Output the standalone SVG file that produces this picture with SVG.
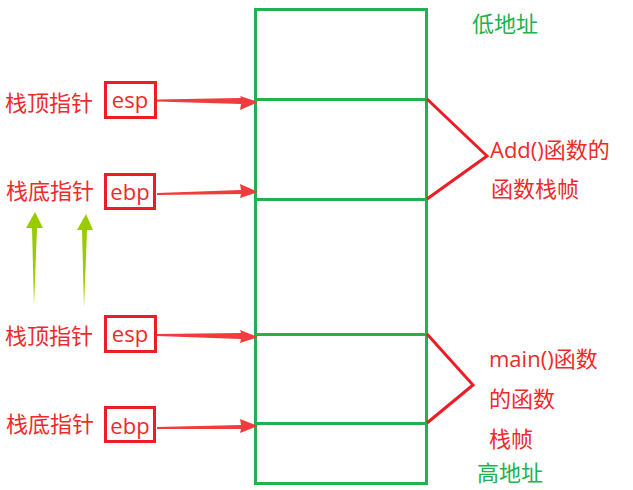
<svg xmlns="http://www.w3.org/2000/svg" width="633" height="490" viewBox="0 0 633 490">
<style>
.t{font-family:"Noto Sans CJK SC","Noto Sans",sans-serif;font-size:22px;fill:#ee2a2a}
.e{font-family:"Open Sans","Noto Sans",sans-serif;font-size:22px;fill:#ee2a2a}
.g{font-family:"Noto Sans CJK SC","Noto Sans",sans-serif;font-size:22px;fill:#22b14c}
.box{fill:none;stroke:#ee1c24;stroke-width:3}
.fr{fill:none;stroke:#22b14c;stroke-width:3}
.arr{fill:#f03c3c}
.up{fill:#99cc00}
.br{fill:none;stroke:#ee1c24;stroke-width:3;stroke-linejoin:miter}
</style>
<rect width="633" height="490" fill="#fff"/>
<g id="stack">
<rect class="fr" x="255.5" y="9.5" width="171" height="474"/>
<line class="fr" x1="255" y1="99.5" x2="427" y2="99.5"/>
<line class="fr" x1="255" y1="199.5" x2="427" y2="199.5"/>
<line class="fr" x1="255" y1="334.5" x2="427" y2="334.5"/>
<line class="fr" x1="255" y1="423.5" x2="427" y2="423.5"/>
</g>
<g id="low"><text class="g" x="472" y="32">低地址</text></g>
<g id="high"><text class="g" x="477" y="481">高地址</text></g>
<g id="esp1">
<text class="t" x="5" y="111">栈顶指针</text>
<rect class="box" x="105.5" y="82.5" width="50" height="35"/>
<text class="e" x="130" y="108" text-anchor="middle">esp</text>
</g>
<g id="ebp1">
<text class="t" x="6" y="199">栈底指针</text>
<rect class="box" x="105.5" y="174.5" width="49" height="34"/>
<text class="e" x="130" y="200" text-anchor="middle">ebp</text>
</g>
<g id="esp2">
<text class="t" x="5" y="344">栈顶指针</text>
<rect class="box" x="105.5" y="316.5" width="50" height="35"/>
<text class="e" x="130" y="342" text-anchor="middle">esp</text>
</g>
<g id="ebp2">
<text class="t" x="6" y="432">栈底指针</text>
<rect class="box" x="105.5" y="407.5" width="49" height="34"/>
<text class="e" x="130" y="434" text-anchor="middle">ebp</text>
</g>
<g id="addlabel">
<text class="t" x="490" y="158"><tspan class="e">Add()</tspan>函数的</text>
<text class="t" x="491" y="197">函数栈帧</text>
</g>
<g id="mainlabel">
<text class="t" x="489" y="367"><tspan class="e">main()</tspan>函数</text>
<text class="t" x="489" y="407">的函数</text>
<text class="t" x="489" y="447">栈帧</text>
</g>
<g id="connectors">
<polygon class="arr" points="157,99.5 241,98 240,96 258,102 240,110 241,104 157,101.5"/>
<polygon class="arr" points="157,193 241,190 240,184 258,192 240,198 241,194 157,195"/>
<polygon class="arr" points="157,334 241,333 240,330 258,337 240,343 241,339 157,336"/>
<polygon class="arr" points="157,427 241,425 240,419 258,426 240,433 241,429 157,429"/>
<polygon class="up" points="34,305 32,228 26,228 35,212 43,228 37,228"/>
<polygon class="up" points="84,308 82,230 77,230 86,214 93,230 87,230"/>
<polyline class="br" points="427,99 487,156 427,199"/>
<polyline class="br" points="427,334 473,385 427,423"/>
</g>
</svg>
